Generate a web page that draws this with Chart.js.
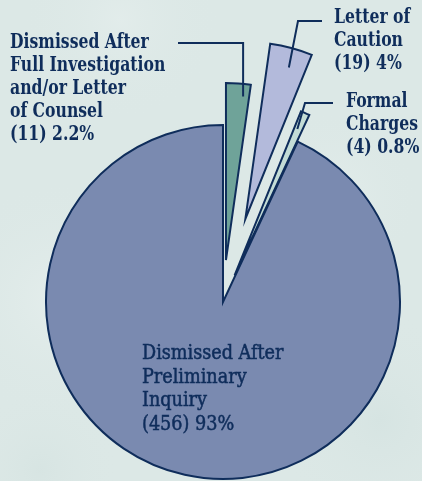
<!DOCTYPE html>
<html>
<head>
<meta charset="utf-8">
<script src="https://cdn.jsdelivr.net/npm/chart.js@4"></script>
<style>
  html, body { margin: 0; padding: 0; background: #dce8e6; }
  #wrap { width: 422px; height: 481px; position: relative; }
</style>
</head>
<body>
<div id="wrap"><canvas id="pie"></canvas></div>
<script>
// chart data
const categories = [
  'Dismissed After Full Investigation and/or Letter of Counsel',
  'Letter of Caution',
  'Formal Charges',
  'Dismissed After Preliminary Inquiry'
];
const counts = [11, 19, 4, 456];
const percents = ['2.2%', '4%', '0.8%', '93%'];
const labelLines = [
  ['Dismissed After', 'Full Investigation', 'and/or Letter', 'of Counsel'],
  ['Letter of', 'Caution'],
  ['Formal', 'Charges'],
  ['Dismissed After', 'Preliminary', 'Inquiry']
];

// styling
const sliceColors = ['#6fa399', '#b3badb', '#c3dcd6', '#7a8ab0'];
const explodeBy = [42, 86, 29, 0]; // px each slice is pulled out
const ink = '#0f2d5b';
const serif = '"DejaVu Serif Condensed", "DejaVu Serif", serif';

// label blocks and where the leader line leaves each slice
const labelBoxes = [
  { x: 10, y: 43, bold: true, squeeze: 0.87, at: [0.74, 0.93], leader: { up: true, endX: 178 } },
  { x: 334, y: 18, bold: true, squeeze: 0.87, at: [0.57, 0.89], leader: { elbowX: 298, elbowY: 21, endX: 322 } },
  { x: 346, y: 102, bold: true, squeeze: 0.87, at: [0.4, 0.9], leader: { elbowX: 305, elbowY: 103, endX: 333 } },
  { x: 142, y: 354, bold: false, squeeze: 0.98, at: null, leader: null }
];

const backdrop = {
  id: 'backdrop',
  beforeDraw(chart) {
    const { ctx, width, height } = chart;
    ctx.save();
    ctx.fillStyle = '#dce8e6';
    ctx.fillRect(0, 0, width, height);
    const spots = [[60, 300, 120, 'rgba(236,243,242,0.5)'], [380, 420, 110, 'rgba(208,224,222,0.5)'],
                   [330, 200, 90, 'rgba(236,243,242,0.45)'], [40, 470, 80, 'rgba(210,225,223,0.5)'],
                   [120, 20, 100, 'rgba(232,240,239,0.5)']];
    spots.forEach(([x, y, r, c]) => {
      const g = ctx.createRadialGradient(x, y, 0, x, y, r);
      g.addColorStop(0, c);
      g.addColorStop(1, 'rgba(220,232,230,0)');
      ctx.fillStyle = g;
      ctx.fillRect(0, 0, width, height);
    });
    ctx.restore();
  }
};

// pull slices straight out along their middle angle, keeping their size
const explode = {
  id: 'explode',
  beforeDatasetsDraw(chart) {
    const meta = chart.getDatasetMeta(0);
    const area = chart.chartArea;
    const cx = (area.left + area.right) / 2 + (meta.controller.offsetX || 0);
    const cy = (area.top + area.bottom) / 2 + (meta.controller.offsetY || 0);
    meta.data.forEach((arc, i) => {
      const mid = (arc.startAngle + arc.endAngle) / 2;
      arc.x = cx + Math.cos(mid) * explodeBy[i];
      arc.y = cy + Math.sin(mid) * explodeBy[i];
    });
  }
};

const sliceLabels = {
  id: 'sliceLabels',
  afterDatasetsDraw(chart) {
    const { ctx } = chart;
    const meta = chart.getDatasetMeta(0);
    ctx.save();
    ctx.fillStyle = ink;
    ctx.strokeStyle = ink;
    ctx.textBaseline = 'middle';
    ctx.textAlign = 'left';
    meta.data.forEach((arc, i) => {
      const box = labelBoxes[i];

      if (box.leader) {
        const a = arc.startAngle + (arc.endAngle - arc.startAngle) * box.at[0];
        const ax = arc.x + Math.cos(a) * arc.outerRadius * box.at[1];
        const ay = arc.y + Math.sin(a) * arc.outerRadius * box.at[1];
        const l = box.leader;
        ctx.lineWidth = 2;
        ctx.beginPath();
        ctx.moveTo(ax, ay);
        if (l.up) {
          ctx.lineTo(ax, box.y);
          ctx.lineTo(l.endX, box.y);
        } else {
          ctx.lineTo(l.elbowX, l.elbowY);
          ctx.lineTo(l.endX, l.elbowY);
        }
        ctx.stroke();
      }

      const lines = labelLines[i].concat(['(' + counts[i] + ') ' + percents[i]]);
      ctx.font = (box.bold ? 'bold ' : '') + '20px ' + serif;
      ctx.lineWidth = 0.5;
      const lh = box.bold ? 23 : 23.5;
      ctx.save();
      ctx.translate(box.x, box.y);
      ctx.scale(box.squeeze, 1);
      lines.forEach((t, k) => {
        ctx.fillText(t, 0, k * lh);
        if (!box.bold) ctx.strokeText(t, 0, k * lh);
      });
      ctx.restore();
    });
    ctx.restore();
  }
};

new Chart(document.getElementById('pie'), {
  type: 'pie',
  data: {
    labels: categories,
    datasets: [{
      data: counts,
      backgroundColor: sliceColors,
      borderColor: ink,
      borderWidth: 2,
      borderJoinStyle: 'miter'
    }]
  },
  options: {
    responsive: true,
    maintainAspectRatio: false,
    animation: false,
    rotation: 0,
    radius: 177,
    layout: { padding: { left: 24, right: 0, top: 123, bottom: 0 } },
    plugins: {
      legend: { display: false },
      tooltip: { enabled: false }
    }
  },
  plugins: [backdrop, explode, sliceLabels]
});
</script>
</body>
</html>
